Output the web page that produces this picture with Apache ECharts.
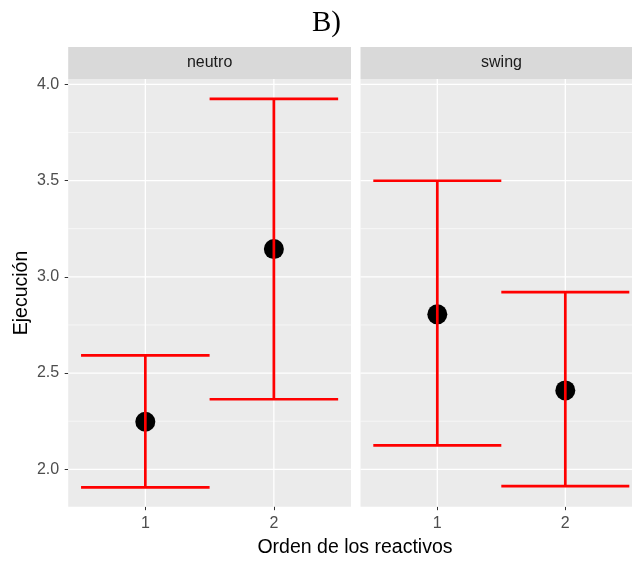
<!DOCTYPE html>
<html>
<head>
<meta charset="utf-8">
<script src="https://cdn.jsdelivr.net/npm/echarts@6/dist/echarts.min.js"></script>
<style>html,body{margin:0;padding:0;background:#fff;}#c{width:632px;height:563px;}</style>
</head>
<body>
<div id="c"></div>
<script>
// ---- data ----
var panels = ['neutro', 'swing'];
var orden = [1, 2];
var neutroMean = [2.247, 3.144];
var neutroLow  = [1.906, 2.364];
var neutroHigh = [2.592, 3.924];
var swingMean  = [2.805, 2.410];
var swingLow   = [2.125, 1.913];
var swingHigh  = [3.499, 2.921];
var yTicks = [2.0, 2.5, 3.0, 3.5, 4.0];
var yMinor = [2.25, 2.75, 3.25, 3.75];
var xTicks = [1, 2];
var xTickLabels = ['1', '2'];

var YMIN = 1.806, YMAX = 4.0275, XMIN = 0.4;
// right panel is cut by the picture's right edge
var XMAXS = [2.6, 2.521];
var FONT = '"Liberation Sans", Arial, sans-serif';

var chart = echarts.init(document.getElementById('c'), null, {renderer: 'canvas'});

var grids = [
  {left: 68.2, top: 79, width: 282.8, height: 427.7},
  {left: 360.5, top: 79, width: 271.5, height: 427.7}
];

function xAxisFor(i) {
  return {
    type: 'value', gridIndex: i, min: XMIN, max: XMAXS[i],
    axisLine: {show: false},
    splitLine: {show: false},
    axisTick: {show: true, customValues: xTicks, length: 3.5, lineStyle: {color: '#333333', width: 1}},
    axisLabel: {show: true, customValues: xTicks, margin: 9, color: '#4D4D4D', fontSize: 16, fontFamily: FONT,
      formatter: function (v) { return xTickLabels[xTicks.indexOf(v)]; }}
  };
}
function yAxisFor(i) {
  return {
    type: 'value', gridIndex: i, min: YMIN, max: YMAX,
    axisLine: {show: false},
    splitLine: {show: false},
    axisTick: {show: i === 0, customValues: yTicks, length: 3.5, lineStyle: {color: '#333333', width: 1}},
    axisLabel: {show: i === 0, customValues: yTicks, margin: 9, color: '#4D4D4D', fontSize: 16, fontFamily: FONT,
      formatter: function (v) { return v.toFixed(1); }}
  };
}

function gridData() {
  var d = [];
  yTicks.forEach(function (v) { d.push([1, v, 0]); });
  yMinor.forEach(function (v) { d.push([1, v, 1]); });
  xTicks.forEach(function (v) { d.push([v, 3, 2]); });
  return d;
}

function gridSeries(i) {
  return {
    type: 'custom', xAxisIndex: i, yAxisIndex: i, z: 1, silent: true,
    data: gridData(),
    renderItem: function (params, api) {
      var cs = params.coordSys;
      var kind = api.value(2);
      if (kind === 2) {
        var px = api.coord([api.value(0), YMIN])[0];
        return {type: 'line', shape: {x1: px, y1: cs.y, x2: px, y2: cs.y + cs.height},
          style: {stroke: '#FFFFFF', lineWidth: 1.3}};
      }
      var py = api.coord([1, api.value(1)])[1];
      return {type: 'line', shape: {x1: cs.x, y1: py, x2: cs.x + cs.width, y2: py},
        style: {stroke: '#FFFFFF', lineWidth: kind === 0 ? 1.3 : 0.6}};
    }
  };
}

function errSeries(i, low, high) {
  return {
    type: 'custom', xAxisIndex: i, yAxisIndex: i, z: 4, silent: true,
    data: orden.map(function (x, k) { return [x, low[k], high[k]]; }),
    renderItem: function (params, api) {
      var x = api.value(0), lo = api.value(1), hi = api.value(2);
      var pLo = api.coord([x, lo]), pHi = api.coord([x, hi]);
      var l1 = api.coord([x - 0.5, hi]), r1 = api.coord([x + 0.5, hi]);
      var l2 = api.coord([x - 0.5, lo]), r2 = api.coord([x + 0.5, lo]);
      var st = {stroke: '#FF0000', lineWidth: 2.7};
      return {type: 'group', children: [
        {type: 'line', shape: {x1: pLo[0], y1: pLo[1], x2: pHi[0], y2: pHi[1]}, style: st},
        {type: 'line', shape: {x1: l1[0], y1: l1[1], x2: r1[0], y2: r1[1]}, style: st},
        {type: 'line', shape: {x1: l2[0], y1: l2[1], x2: r2[0], y2: r2[1]}, style: st}
      ]};
    }
  };
}

function pointSeries(i, mean) {
  return {
    type: 'scatter', xAxisIndex: i, yAxisIndex: i, z: 3, silent: true,
    symbol: 'circle', symbolSize: 20,
    itemStyle: {color: '#000000', opacity: 1},
    data: orden.map(function (x, k) { return [x, mean[k]]; })
  };
}

var graphics = [];
grids.forEach(function (g, i) {
  var stripW = i === 0 ? g.width : 282;
  graphics.push({type: 'rect', shape: {x: g.left, y: 47, width: stripW, height: 32},
    style: {fill: '#D9D9D9'}, z: 0, silent: true});
  graphics.push({type: 'text', x: g.left + stripW / 2, y: 63, z: 1, silent: true,
    style: {text: panels[i], fill: '#1A1A1A', font: '16px ' + FONT, textAlign: 'center', textVerticalAlign: 'middle'}});
});
graphics.push({type: 'text', x: 326.5, y: 23, silent: true,
  style: {text: 'B)', fill: '#000000', font: '29px "Liberation Serif", "Times New Roman", serif', textAlign: 'center', textVerticalAlign: 'middle'}});
graphics.push({type: 'text', x: 355, y: 548, silent: true,
  style: {text: 'Orden de los reactivos', fill: '#000000', font: '19.5px ' + FONT, textAlign: 'center', textVerticalAlign: 'middle'}});
graphics.push({type: 'text', x: 21.5, y: 293, rotation: Math.PI / 2, silent: true,
  style: {text: 'Ejecución', fill: '#000000', font: '19.5px ' + FONT, textAlign: 'center', textVerticalAlign: 'middle'}});

chart.setOption({
  backgroundColor: '#FFFFFF',
  animation: false,
  grid: grids.map(function (g) {
    return {left: g.left, top: g.top, width: g.width, height: g.height, show: true,
      backgroundColor: '#EBEBEB', borderWidth: 0, containLabel: false};
  }),
  xAxis: [xAxisFor(0), xAxisFor(1)],
  yAxis: [yAxisFor(0), yAxisFor(1)],
  series: [
    gridSeries(0), gridSeries(1),
    pointSeries(0, neutroMean), pointSeries(1, swingMean),
    errSeries(0, neutroLow, neutroHigh), errSeries(1, swingLow, swingHigh)
  ],
  graphic: graphics
});
</script>
</body>
</html>
